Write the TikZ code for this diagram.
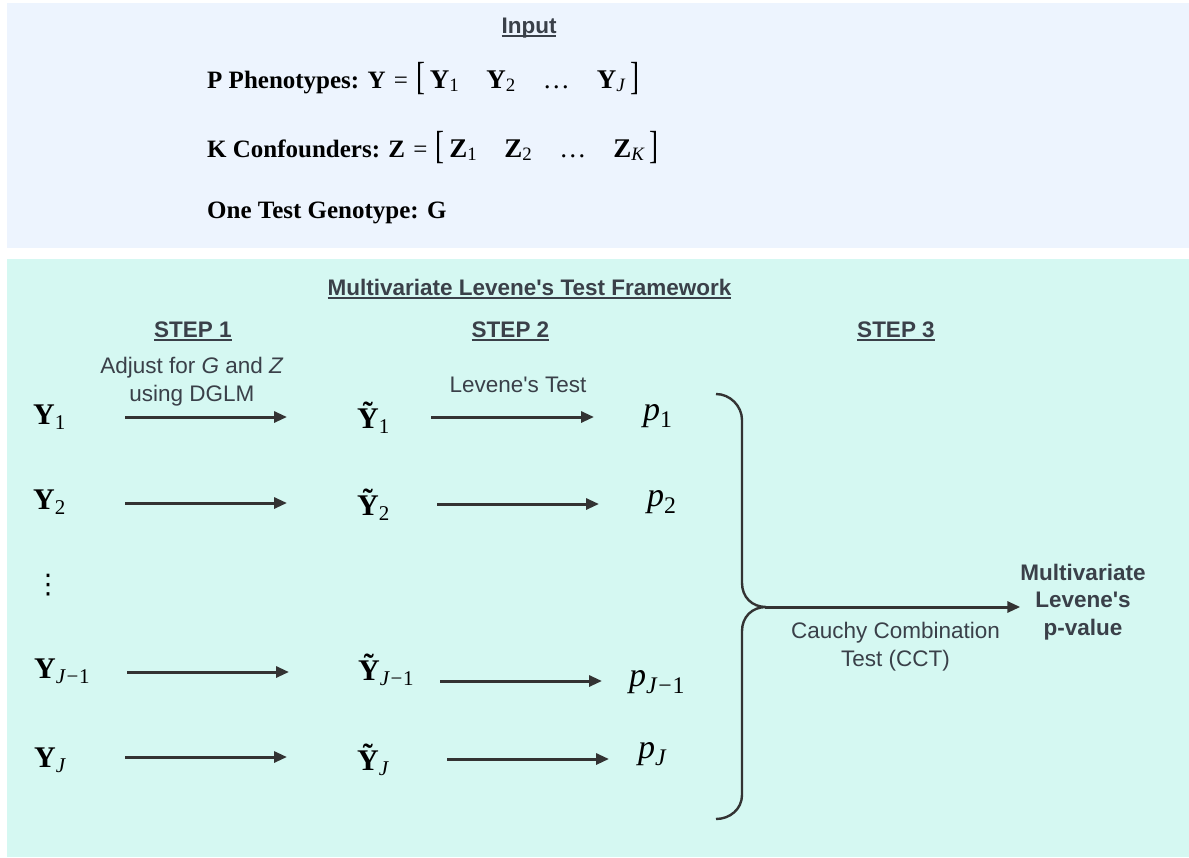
\documentclass[tikz,border=0pt]{standalone}
\usepackage{fontspec}
\setmainfont{Liberation Serif}
\newfontfamily\sansf{Liberation Sans}[Ligatures=TeXOff]
\newfontfamily\dvf{DejaVu Sans}
\usetikzlibrary{arrows.meta}
\definecolor{topbg}{HTML}{EDF4FE}
\definecolor{botbg}{HTML}{D5F8F2}
\definecolor{txt}{HTML}{3A4049}
\definecolor{arrc}{HTML}{333333}
\newcommand{\fs}[2]{\fontsize{#1}{#2}\selectfont}
\newcommand{\sbs}[1]{\textsubscript{#1}}
\newcommand{\Yb}{\textbf{Y}}
\newcommand{\Yt}{\textbf{\~{Y}}}
\newcommand{\Jm}{\textit{J}\kern0.03em−\kern0.03em1}
\newcommand{\lbr}{\raisebox{-0.05em}{\scalebox{1}[1.45]{[}}}
\newcommand{\rbr}{\raisebox{-0.05em}{\scalebox{1}[1.45]{]}}}
\newcommand{\myul}[1]{\setbox0\hbox{#1}\rlap{\rule[-4pt]{\wd0}{1.8pt}}\box0}
\newcommand{\gp}{\hspace{1em}}
\begin{document}
\begin{tikzpicture}[x=1pt,y=-1pt,
  sans/.style={font=\sansf\fs{22.5}{27.5}, text=txt, inner sep=0pt},
  hd/.style={font=\sansf\bfseries\fs{22.5}{27.5}, text=txt, inner sep=0pt},
  mth/.style={font=\fs{30}{36}, inner sep=0pt, anchor=base west},
  pv/.style={font=\fs{34}{36}, inner sep=0pt, anchor=base west},
  inp/.style={font=\fs{25}{30}, inner sep=0pt, anchor=base west},
  arr/.style={draw=arrc, line width=3pt, -{Triangle[length=13pt,width=11pt]}},
  brc/.style={draw=arrc, line width=2.4pt},
]
\useasboundingbox (0,0) rectangle (1189,857);
\fill[topbg] (7,3) rectangle (1189,248);
\fill[botbg] (7,259) rectangle (1189,857);

% Input panel
\node[hd, anchor=base] (inp) at (529,33) {\myul{Input}};
\node[inp] (l1) at (207,88) {\textbf{P Phenotypes: Y}\,\,=\,\,{\fs{27}{30}\lbr\,\Yb\sbs{1}\gp\Yb\sbs{2}\gp…\gp\Yb\sbs{\textit{J}}\,\rbr}};
\node[inp] (l2) at (207,157) {\textbf{K Confounders: Z}\,\,=\,\,{\fs{27}{30}\lbr\,\textbf{Z}\sbs{1}\gp\textbf{Z}\sbs{2}\gp…\gp\textbf{Z}\sbs{\textit{K}}\,\rbr}};
\node[inp] (l3) at (207,218) {\textbf{One Test Genotype: G}};

% Framework panel headings
\node[hd, anchor=base] (fw) at (529.5,295) {\myul{Multivariate Levene's Test Framework}};
\node[hd, anchor=base] (s1) at (193,337) {\myul{STEP 1}};
\node[hd, anchor=base] (s2) at (510.5,337) {\myul{STEP 2}};
\node[hd, anchor=base] (s3) at (896,337) {\myul{STEP 3}};
\node[sans, align=center, anchor=base] (adj) at (192,401) {Adjust for \textit{G} and \textit{Z}\\using DGLM};
\node[sans, anchor=base] (lev) at (518,392) {Levene's Test};

% column 1
\node[mth] (y1) at (33,424) {\Yb\sbs{1}};
\node[mth] (y2) at (33,509) {\Yb\sbs{2}};
\node[font=\dvf\fs{27}{30}, inner sep=0pt] (vd) at (48,585) {⋮};
\node[mth] (yj1) at (34,678) {\Yb\sbs{\Jm}};
\node[mth] (yj) at (34,767) {\Yb\sbs{\textit{J}}};

% column 2
\node[mth] (t1) at (357,428) {\Yt\sbs{1}};
\node[mth] (t2) at (357,515) {\Yt\sbs{2}};
\node[mth] (tj1) at (358,680) {\Yt\sbs{\Jm}};
\node[mth] (tj) at (357,770) {\Yt\sbs{\textit{J}}};

% column 3
\node[pv] (p1) at (643,420) {\textit{p}\sbs{1}};
\node[pv] (p2) at (647,506) {\textit{p}\sbs{2}};
\node[pv] (pj1) at (629,686) {\textit{p}\sbs{\Jm}};
\node[pv] (pj) at (638,758) {\textit{p}\sbs{\textit{J}}};

% arrow end points
\coordinate (a1s) at (125,417); \coordinate (a1e) at (287,417);
\coordinate (b1s) at (431,417); \coordinate (b1e) at (594,417);
\coordinate (a2s) at (125,503); \coordinate (a2e) at (287,503);
\coordinate (b2s) at (437,504); \coordinate (b2e) at (599,504);
\coordinate (a3s) at (127,672); \coordinate (a3e) at (289,672);
\coordinate (b3s) at (440,681); \coordinate (b3e) at (602,681);
\coordinate (a4s) at (125,757); \coordinate (a4e) at (287,757);
\coordinate (b4s) at (447,759); \coordinate (b4e) at (609,759);

\draw[arr] (a1s) -- (a1e);
\draw[arr] (b1s) -- (b1e);
\draw[arr] (a2s) -- (a2e);
\draw[arr] (b2s) -- (b2e);
\draw[arr] (a3s) -- (a3e);
\draw[arr] (b3s) -- (b3e);
\draw[arr] (a4s) -- (a4e);
\draw[arr] (b4s) -- (b4e);

% brace
\draw[brc] (716,394) .. controls (730,394) and (742,406) .. (742,420) -- (742,583)
  .. controls (742,597) and (752,607) .. (766,607)
  .. controls (752,607) and (742,617) .. (742,631) -- (742,795)
  .. controls (742,809) and (730,819) .. (716,819);
\coordinate (bt) at (765,607);

% result
\node[hd, align=center, anchor=base] (res) at (1083,635) {Multivariate\\Levene's\\p-value};
\draw[arr] (bt) -- (bt -| res.west);
\node[sans, align=center, anchor=base] (cct) at (895.5,666) {Cauchy Combination\\Test (CCT)};
\end{tikzpicture}
\end{document}
